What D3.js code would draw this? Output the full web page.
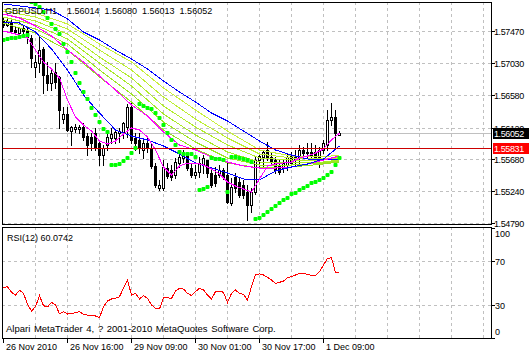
<!DOCTYPE html>
<html>
<head>
<meta charset="utf-8">
<script src="https://cdn.jsdelivr.net/npm/d3@7"></script>
<style>
  body { margin: 0; background: #fff; }
  svg { display: block; }
  text { font-family: "Liberation Sans", Arial, sans-serif; font-size: 9px; fill: #000; }
</style>
</head>
<body>
<svg id="chart"></svg>
<script>
// ---- data ----
const symbolTitle = "GBPUSD,H1  1.56014 1.56080 1.56013 1.56052";
const rsiTitle = "RSI(12) 60.0742";
const copyright = "Alpari MetaTrader 4, ? 2001-2010 MetaQuotes Software Corp.";

const openP = [1.57630,1.57560,1.57602,1.57490,1.57448,1.57518,1.57490,1.57378,1.56972,1.57028,
  1.57224,1.56860,1.56748,1.56902,1.56832,1.56244,1.56314,1.56076,1.56104,1.56104,
  1.56132,1.56006,1.55992,1.56048,1.55908,1.55740,1.55880,1.55978,1.55978,1.56048,
  1.56062,1.56132,1.56412,1.55978,1.55950,1.55810,1.55908,1.55838,1.55586,1.55278,
  1.55278,1.55558,1.55530,1.55460,1.55628,1.55698,1.55740,1.55558,1.55460,1.55502,
  1.55600,1.55670,1.55488,1.55460,1.55460,1.55530,1.55460,1.55068,1.55432,1.55362,
  1.55320,1.55222,1.55040,1.55222,1.55670,1.55712,1.55810,1.55712,1.55670,1.55600,
  1.55558,1.55600,1.55726,1.55712,1.55698,1.55810,1.55768,1.55782,1.55782,1.55712,
  1.55810,1.55880,1.56230,1.56272,1.56014];
const highP = [1.57658,1.57644,1.57630,1.57532,1.57532,1.57546,1.57532,1.57420,1.57140,1.57420,
  1.57252,1.57042,1.56930,1.57028,1.56846,1.56412,1.56412,1.56146,1.56174,1.56160,
  1.56188,1.56048,1.56048,1.56118,1.55950,1.55880,1.56048,1.56118,1.56090,1.56118,
  1.56202,1.56454,1.56468,1.56048,1.56048,1.55950,1.55978,1.55908,1.55628,1.55390,
  1.55670,1.55628,1.55600,1.55698,1.55768,1.55810,1.55782,1.55628,1.55600,1.55712,
  1.55740,1.55670,1.55572,1.55572,1.55600,1.55558,1.55642,1.55418,1.55488,1.55432,
  1.55390,1.55320,1.55278,1.55712,1.55768,1.55810,1.55922,1.55768,1.55712,1.55670,
  1.55670,1.55768,1.55782,1.55810,1.55880,1.55852,1.55908,1.55908,1.55880,1.55852,
  1.55950,1.56370,1.56468,1.56370,1.56080];
const lowP = [1.57532,1.57546,1.57462,1.57434,1.57420,1.57448,1.57308,1.56972,1.56832,1.56902,
  1.56608,1.56650,1.56650,1.56678,1.56118,1.56188,1.56076,1.55880,1.56062,1.56048,
  1.55950,1.55740,1.55810,1.55810,1.55600,1.55600,1.55810,1.55908,1.55908,1.55922,
  1.55978,1.55992,1.55908,1.55810,1.55768,1.55698,1.55782,1.55558,1.55292,1.55250,
  1.55250,1.55418,1.55390,1.55418,1.55572,1.55642,1.55530,1.55432,1.55418,1.55432,
  1.55488,1.55432,1.55292,1.55306,1.55432,1.55404,1.55068,1.55040,1.55222,1.55152,
  1.55138,1.54830,1.54942,1.55194,1.55572,1.55558,1.55670,1.55628,1.55488,1.55474,
  1.55502,1.55530,1.55600,1.55586,1.55628,1.55712,1.55712,1.55712,1.55642,1.55572,
  1.55768,1.55810,1.56160,1.55852,1.56013];
const closeP = [1.57560,1.57616,1.57476,1.57462,1.57518,1.57476,1.57392,1.57098,1.57042,1.57210,
  1.56860,1.56748,1.56888,1.56762,1.56370,1.56314,1.56090,1.56132,1.56132,1.56132,
  1.55992,1.55880,1.55908,1.55852,1.55740,1.55838,1.55992,1.56034,1.56062,1.56076,
  1.56188,1.56412,1.55950,1.55908,1.55838,1.55908,1.55838,1.55586,1.55320,1.55320,
  1.55572,1.55446,1.55432,1.55642,1.55712,1.55754,1.55558,1.55460,1.55502,1.55628,
  1.55698,1.55488,1.55320,1.55348,1.55530,1.55432,1.55082,1.55292,1.55278,1.55180,
  1.55180,1.55040,1.55222,1.55670,1.55726,1.55782,1.55698,1.55656,1.55530,1.55502,
  1.55628,1.55712,1.55628,1.55670,1.55810,1.55768,1.55782,1.55740,1.55712,1.55810,
  1.55908,1.56230,1.56272,1.56048,1.56052];

// moving averages, read every 4 bars
const maBars = [0,4,8,12,16,20,24,28,32,36,40,44,48,52,56,60,64,68,72,76,80,84];
const slowBlue = [1.57854,1.57826,1.57798,1.57770,1.57644,1.57462,1.57350,1.57210,1.57084,1.56944,1.56776,
  1.56622,1.56482,1.56328,1.56216,1.56076,1.55936,1.55810,1.55740,1.55684,1.55670,1.55684];
const fastBlue = [1.57602,1.57588,1.57462,1.57224,1.56930,1.56580,1.56328,1.56090,1.56006,1.55950,1.55866,
  1.55754,1.55628,1.55558,1.55488,1.55404,1.55390,1.55516,1.55572,1.55614,1.55684,1.55866];
const slowMagenta = [1.57714,1.57658,1.57546,1.57406,1.57210,1.57042,1.56846,1.56650,1.56440,1.56286,1.56062,
  1.55880,1.55810,1.55712,1.55642,1.55586,1.55558,1.55558,1.55572,1.55614,1.55670,1.55726];
// fast magenta read every 2 bars
const fastMagenta = [1.57476,1.57448,1.57420,1.57378,1.57210,1.57042,1.56944,1.56818,1.56510,1.56272,
  1.56160,1.56076,1.55936,1.55894,1.55936,1.56034,1.56118,1.56090,1.55992,1.55810,
  1.55572,1.55460,1.55586,1.55628,1.55628,1.55600,1.55544,1.55474,1.55362,1.55306,
  1.55264,1.55222,1.55404,1.55586,1.55614,1.55628,1.55642,1.55698,1.55726,1.55768,
  1.55824,1.55950,1.56048];

// yellow-green ribbon, read every 8 bars (+ last bar)
const ribbonBars = [0,8,16,24,32,40,48,56,64,72,80,84];
const ribbon1 = [1.57784,1.57728,1.57574,1.57294,1.57042,1.56678,1.56370,1.56076,1.55810,1.55726,1.55712,1.55740];
const ribbon2 = [1.57756,1.57672,1.57504,1.57210,1.56930,1.56552,1.56244,1.55978,1.55754,1.55698,1.55684,1.55712];
const ribbon3 = [1.57714,1.57616,1.57434,1.57112,1.56818,1.56426,1.56132,1.55880,1.55698,1.55670,1.55670,1.55698];
const ribbon4 = [1.57672,1.57560,1.57364,1.57028,1.56706,1.56314,1.56020,1.55782,1.55642,1.55628,1.55642,1.55670];
const ribbon5 = [1.57630,1.57504,1.57294,1.56930,1.56594,1.56202,1.55922,1.55698,1.55600,1.55600,1.55628,1.55656];
const ribbon6 = [1.57588,1.57448,1.57210,1.56832,1.56482,1.56090,1.55824,1.55628,1.55558,1.55572,1.55614,1.55642];

// parabolic SAR, one per bar
const sar = [1.57350,1.57364,1.57378,1.57378,1.57392,1.57406,1.57420,1.57882,1.57854,1.57812,
  1.57742,1.57658,1.57574,1.57504,1.57434,1.57294,1.57182,1.57042,1.56888,1.56748,
  1.56622,1.56524,1.56398,1.56300,1.56202,1.56104,1.56062,1.55600,1.55600,1.55614,
  1.55656,1.55698,1.55768,1.55838,1.56454,1.56426,1.56398,1.56384,1.56328,1.56258,
  1.56160,1.56048,1.55950,1.55880,1.55782,1.55754,1.55754,1.55754,1.55712,1.55250,
  1.55264,1.55292,1.55698,1.55684,1.55684,1.55670,1.55222,1.55712,1.55712,1.55698,
  1.55684,1.55670,1.55642,1.54844,1.54858,1.54900,1.54942,1.54984,1.55026,1.55068,
  1.55110,1.55138,1.55194,1.55208,1.55250,1.55278,1.55306,1.55348,1.55362,1.55390,
  1.55418,1.55460,1.55502,1.55600,1.55698];

const rsi = [45.7,46.6,41.5,39,43.3,40.6,30.6,24.5,28.5,38.5,
  29.4,28.2,32.4,30,22.1,23.9,21.8,22.4,23,23.9,
  21.5,20.9,20.3,20,18.5,28.5,33.6,35.5,36,37.6,
  45.2,52.7,39,40.6,35.5,38.5,36,30,27,26.4,
  36.7,36.7,36,42.7,45.2,44.5,40.6,38.5,42.1,45.2,
  43.6,39,35.5,42.1,42.7,41.5,32.4,40.6,43.6,40.6,
  39.7,34.5,46.6,57.3,58.2,57.3,55.2,52.7,49.7,50.6,
  51.8,54.8,55.7,57.3,58.8,58.8,57.9,56.7,56.7,60.3,
  66.4,72.4,73,59.4,60.07];

const priceTicks = [1.57470,1.57030,1.56580,1.56120,1.55680,1.55240,1.54790];
const rsiTicks = [100,70,30,0];
const rsiLevels = [70,30];
const bidPrice = 1.56052;
const redLevel = 1.55831;
const timeLabels = ["26 Nov 2010","26 Nov 16:00","29 Nov 09:00","30 Nov 01:00","30 Nov 17:00","1 Dec 09:00"];
const timeBars = [0,16,32,48,64,80];

// ---- layout ----
const W = 529, H = 355;
const main = {left: 2, top: 2, right: 491, bottom: 224};
const sub = {left: 2, top: 227, right: 491, bottom: 338};

const svg = d3.select('#chart').attr('width', W).attr('height', H);

const x = d3.scaleLinear().domain([0, 1]).range([3, 7]);
const y = d3.scaleLinear().domain([1.54788, 1.5791]).range([223, 0]);
const yR = d3.scaleLinear().domain([0, 100]).range([338, 228]);

const defs = svg.append('defs');
defs.append('clipPath').attr('id', 'clip-main').append('rect')
  .attr('x', main.left).attr('y', main.top)
  .attr('width', main.right - main.left).attr('height', main.bottom - main.top);
defs.append('clipPath').attr('id', 'clip-sub').append('rect')
  .attr('x', sub.left).attr('y', sub.top)
  .attr('width', sub.right - sub.left).attr('height', sub.bottom - sub.top);

const gridColor = '#c0c0c0';
const gridDash = '3,3';

// vertical grid in both panels
const gridBars = d3.range(8, 121, 8);
[main, sub].forEach(p => {
  svg.append('g').selectAll('line').data(gridBars).join('line')
    .attr('x1', d => Math.round(x(d)) + 0.5).attr('x2', d => Math.round(x(d)) + 0.5)
    .attr('y1', p.top).attr('y2', p.bottom)
    .attr('stroke', gridColor).attr('stroke-dasharray', gridDash);
});

// horizontal grid
svg.append('g').selectAll('line').data(priceTicks).join('line')
  .attr('x1', main.left).attr('x2', main.right)
  .attr('y1', d => Math.round(y(d)) + 0.5).attr('y2', d => Math.round(y(d)) + 0.5)
  .attr('stroke', gridColor).attr('stroke-dasharray', gridDash);
svg.append('g').selectAll('line').data(rsiLevels).join('line')
  .attr('x1', sub.left).attr('x2', sub.right)
  .attr('y1', d => Math.round(yR(d)) + 0.5).attr('y2', d => Math.round(yR(d)) + 0.5)
  .attr('stroke', gridColor).attr('stroke-dasharray', gridDash);

const plot = svg.append('g').attr('clip-path', 'url(#clip-main)');

// bid line (gray)
plot.append('line')
  .attr('x1', main.left).attr('x2', main.right)
  .attr('y1', Math.round(y(bidPrice)) + 0.5).attr('y2', Math.round(y(bidPrice)) + 0.5)
  .attr('stroke', '#c0c0c0');

// candles
const bars = d3.range(openP.length).map(i => ({i, o: openP[i], h: highP[i], l: lowP[i], c: closeP[i]}));
const px = d => Math.round(x(d.i));
const yy = v => Math.round(y(v));

plot.append('g').selectAll('line').data(bars).join('line')
  .attr('x1', d => px(d) + 0.5).attr('x2', d => px(d) + 0.5)
  .attr('y1', d => yy(d.h)).attr('y2', d => yy(d.l) + 1)
  .attr('stroke', '#000');

plot.append('g').selectAll('rect').data(bars).join('rect')
  .attr('x', d => d.c >= d.o ? px(d) - 0.5 : px(d) - 1)
  .attr('y', d => d.c >= d.o ? yy(d.c) + 0.5 : yy(d.o))
  .attr('width', d => d.c >= d.o ? 2 : 3)
  .attr('height', d => d.c >= d.o ? Math.max(0, yy(d.o) - yy(d.c)) : Math.max(1, yy(d.c) - yy(d.o) + 1))
  .attr('fill', d => d.c >= d.o ? '#fff' : '#000')
  .attr('stroke', d => d.c >= d.o ? '#000' : 'none');

// indicator lines
const priceLine = d3.line().x(d => x(d[0]) + 0.5).y(d => y(d[1]));
function drawLine(idx, vals, color) {
  plot.append('path')
    .datum(idx.map((b, k) => [b, vals[k]]))
    .attr('d', priceLine)
    .attr('fill', 'none')
    .attr('stroke', color)
    .attr('stroke-width', 1)
    .attr('shape-rendering', 'crispEdges');
}

const ribbonColors = ['#c8f03c', '#bdee32', '#b2ec2c', '#a8ea26', '#9ee622', '#94e21e'];
[ribbon1, ribbon2, ribbon3, ribbon4, ribbon5, ribbon6].forEach((r, k) => drawLine(ribbonBars, r, ribbonColors[k]));
drawLine(maBars, slowBlue, '#0000ff');
drawLine(maBars, slowMagenta, '#ff00ff');
drawLine(maBars, fastBlue, '#0000ff');
drawLine(d3.range(0, 85, 2), fastMagenta, '#ff00ff');

// red level line
plot.append('line')
  .attr('x1', main.left).attr('x2', main.right)
  .attr('y1', Math.round(y(redLevel)) + 0.5).attr('y2', Math.round(y(redLevel)) + 0.5)
  .attr('stroke', '#cc0000');

// parabolic SAR
plot.append('g').selectAll('rect').data(sar).join('rect')
  .attr('x', (d, i) => Math.round(x(i)) - 1.5)
  .attr('y', d => Math.round(y(d)) - 2)
  .attr('width', 4).attr('height', 4).attr('rx', 1)
  .attr('fill', '#00ff00');

// RSI
svg.append('path')
  .attr('clip-path', 'url(#clip-sub)')
  .datum(rsi)
  .attr('d', d3.line().x((d, i) => x(i) + 0.5).y(d => yR(d)))
  .attr('fill', 'none').attr('stroke', '#ff0000').attr('shape-rendering', 'crispEdges');

// panel frames
[main, sub].forEach(p => {
  svg.append('rect')
    .attr('x', p.left + 0.5).attr('y', p.top + 0.5)
    .attr('width', p.right - p.left).attr('height', p.bottom - p.top)
    .attr('fill', 'none').attr('stroke', '#000');
});

// price axis
const pAxis = svg.append('g');
pAxis.selectAll('line').data(priceTicks).join('line')
  .attr('x1', main.right).attr('x2', main.right + 4)
  .attr('y1', d => Math.round(y(d)) + 0.5).attr('y2', d => Math.round(y(d)) + 0.5)
  .attr('stroke', '#000');
pAxis.selectAll('text').data(priceTicks).join('text')
  .attr('x', main.right + 3).attr('y', d => Math.round(y(d)) + 4)
  .style('letter-spacing', '-0.4px')
  .text(d => d.toFixed(5));

// price boxes
function priceBox(v, bg) {
  const cy = Math.round(y(v));
  svg.append('rect').attr('x', main.right + 2).attr('y', cy - 5).attr('width', W - main.right - 2).attr('height', 11).attr('fill', bg);
  svg.append('text').attr('x', main.right + 3).attr('y', cy + 4)
    .style('fill', '#fff').style('letter-spacing', '-0.4px').text(v.toFixed(5));
}
priceBox(bidPrice, '#000');
priceBox(redLevel, '#ff0000');

// RSI axis
const rAxis = svg.append('g');
rAxis.selectAll('line').data(rsiTicks).join('line')
  .attr('x1', sub.right).attr('x2', sub.right + 4)
  .attr('y1', d => Math.round(yR(d)) + 0.5).attr('y2', d => Math.round(yR(d)) + 0.5)
  .attr('stroke', '#000');
rAxis.selectAll('text').data(rsiTicks).join('text')
  .attr('x', sub.right + 4)
  .attr('y', d => d === 100 ? Math.round(yR(d)) + 9 : d === 0 ? Math.round(yR(d)) - 3 : Math.round(yR(d)) + 4)
  .text(d => d);

// time axis
const tAxis = svg.append('g');
tAxis.selectAll('line').data(timeBars).join('line')
  .attr('x1', d => Math.round(x(d)) + 0.5).attr('x2', d => Math.round(x(d)) + 0.5)
  .attr('y1', sub.bottom).attr('y2', sub.bottom + 5)
  .attr('stroke', '#000');
tAxis.selectAll('text').data(timeLabels).join('text')
  .attr('x', (d, k) => Math.round(x(timeBars[k])) + 3)
  .attr('y', 350)
  .text(d => d);

// titles
svg.append('text').attr('x', 5).attr('y', 14)
  .style('white-space', 'pre').style('word-spacing', '2.5px')
  .text(symbolTitle);
svg.append('text').attr('x', 7).attr('y', 241).text(rsiTitle);
svg.append('text').attr('x', 6).attr('y', 332)
  .style('font-size', '9.5px').style('word-spacing', '1px')
  .text(copyright);
</script>
</body>
</html>
